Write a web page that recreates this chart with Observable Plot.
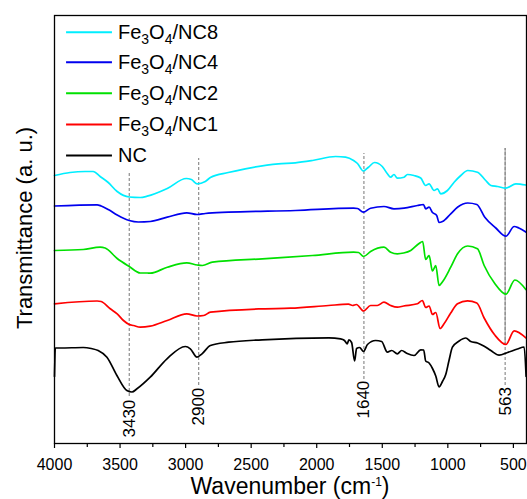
<!DOCTYPE html>
<html>
<head>
<meta charset="utf-8">
<script src="https://cdn.jsdelivr.net/npm/d3@7"></script>
<script src="https://cdn.jsdelivr.net/npm/@observablehq/plot@0.6"></script>
<style>
  html, body { margin: 0; padding: 0; background: white; }
  #chart svg { display: block; }
</style>
</head>
<body>
<div id="chart"></div>
<script>
// ---- Data (arbitrary transmittance units, curves vertically offset) ----
const seriesNames = ["NC", "Fe3O4/NC1", "Fe3O4/NC2", "Fe3O4/NC4", "Fe3O4/NC8"];
const seriesColors = ["#000000", "#ff0000", "#00e000", "#0000ee", "#00eeff"];

const ncW = [4000, 3994, 3957, 3781, 3720, 3667, 3600, 3524, 3448, 3409, 3371, 3270, 3142, 3002, 2964, 2913, 2875, 2811, 2671, 2416, 1907, 1818, 1788, 1767, 1755, 1734, 1711, 1696, 1673, 1643, 1613, 1551, 1505, 1461, 1428, 1385, 1352, 1314, 1258, 1207, 1184, 1169, 1143, 1117, 1092, 1067, 1041, 1016, 991, 965, 914, 863, 825, 774, 726, 672, 609, 545, 469, 418, 403];
const ncT = [67, 95.5, 95.5, 96, 95, 93, 86.3, 68, 53, 51.5, 54.7, 66.3, 84.7, 97, 94.7, 86.3, 89.7, 98, 101.3, 103.7, 105.7, 104.7, 103, 99.7, 103.7, 101, 82.5, 95, 96, 92, 99, 103, 102, 91.3, 93, 89.7, 93, 90.3, 88, 93.7, 93.5, 82.5, 80.5, 75, 67.5, 56.5, 62, 69, 83, 96.3, 102.5, 105.5, 102, 100.5, 97.5, 93, 88.3, 91, 94.5, 96.5, 67];

const nc1W = [4000, 3675, 3644, 3575, 3522, 3474, 3430, 3397, 3346, 3270, 3140, 2991, 2913, 2862, 2811, 2414, 2200, 1910, 1758, 1727, 1697, 1643, 1589, 1538, 1487, 1436, 1385, 1337, 1232, 1194, 1169, 1143, 1117, 1092, 1059, 1029, 978, 926, 850, 779, 723, 642, 557, 494, 405];
const nc1T = [139.7, 142.5, 142, 134.7, 129.7, 123, 119, 118, 116.3, 117.3, 123, 129.7, 127.5, 128, 131.3, 134.7, 135.3, 138, 139.3, 138, 139, 132.5, 138, 138, 141.3, 138, 136.3, 137.5, 139.7, 143, 136, 137.5, 129, 131, 115, 119.7, 130.5, 139.7, 142.7, 140.5, 125.5, 108.5, 99, 112.7, 105.7];

const nc2W = [4000, 3781, 3652, 3614, 3522, 3430, 3346, 3293, 3270, 3140, 2991, 2911, 2872, 2796, 2414, 2032, 1719, 1681, 1643, 1589, 1487, 1436, 1385, 1337, 1283, 1222, 1192, 1169, 1143, 1117, 1092, 1067, 1039, 978, 926, 848, 774, 723, 642, 557, 489, 405];
const nc2T = [193, 194, 196.3, 195.5, 185, 177, 170.5, 170.5, 170.3, 176.3, 180.7, 178.5, 178, 181.3, 184.7, 188, 191.3, 191, 187, 192, 196.3, 191.3, 189.7, 190.5, 193, 199.7, 202, 184, 188, 172.5, 178, 158, 162, 176.3, 189.7, 197.5, 194.7, 178, 160, 149.3, 163.5, 154];

const nc4W = [4000, 3675, 3644, 3590, 3522, 3430, 3361, 3270, 3140, 2991, 2913, 2850, 2674, 2162, 1719, 1689, 1645, 1589, 1487, 1411, 1334, 1232, 1186, 1169, 1143, 1117, 1085, 1067, 1041, 978, 924, 848, 779, 718, 634, 557, 494, 458, 405];
const nc4T = [237.5, 238.7, 237.5, 234, 228.5, 223, 221.5, 222, 226.3, 230.7, 229, 230, 231.3, 233, 235.3, 235, 231.3, 235.3, 237, 234.7, 235.3, 238, 239, 234.7, 236.3, 231, 228, 221, 222, 229.7, 236.5, 240.5, 239, 226.3, 215.5, 207.3, 217, 215.5, 211.5];

const nc8W = [4000, 3881, 3766, 3705, 3652, 3590, 3522, 3430, 3346, 3293, 3140, 2995, 2956, 2913, 2850, 2811, 2675, 2545, 2293, 2163, 2032, 1856, 1780, 1719, 1689, 1645, 1605, 1559, 1500, 1461, 1436, 1411, 1385, 1334, 1308, 1258, 1207, 1169, 1143, 1105, 1079, 1054, 1003, 952, 901, 848, 774, 711, 672, 621, 557, 481, 405];
const nc8T = [268, 271, 272, 272, 267, 261, 252, 246.5, 246, 247.3, 255, 265, 264, 259.7, 262, 266, 271, 274.7, 279.7, 280.7, 283, 287, 286.3, 283, 280, 272.5, 276.3, 281, 277, 269.7, 266.3, 269, 265.3, 266.3, 269, 268, 265.5, 258, 259.7, 253, 254.7, 249.7, 253, 261.3, 268, 273, 271.3, 263, 258, 257, 255.3, 259.7, 258.5];

const seriesW = [ncW, nc1W, nc2W, nc4W, nc8W];
const seriesT = [ncT, nc1T, nc2T, nc4T, nc8T];

// Marker positions (cm-1) and label text
const markerW = [3430, 2900, 1640, 563];
const markerLabels = ["3430", "2900", "1640", "563"];
const markerTop = [271, 285, 290, 295];
const markerBottom = [47, 58, 64, 58];
const markerTextY = [6, 18, 25, 28];

// Axis ticks
const majorTicks = [4000, 3500, 3000, 2500, 2000, 1500, 1000, 500];
const minorTicks = [3750, 3250, 2750, 2250, 1750, 1250, 750];

// Legend order (top to bottom)
const legendOrder = [4, 3, 2, 1, 0];
const legendY = [411.3, 381.3, 350.3, 319, 288];

// ---- Build tables ----
const lineData = seriesW.map((ws, i) => ws.map((w, j) => ({w, t: seriesT[i][j]})));
const markers = markerW.map((w, i) => ({w, label: markerLabels[i], top: markerTop[i], bottom: markerBottom[i], ty: markerTextY[i]}));
const legend = legendOrder.map((s, i) => ({name: seriesNames[s], color: seriesColors[s], y: legendY[i]}));

const font = "'Liberation Sans', Arial, Helvetica, sans-serif";

const plot = Plot.plot({
  width: 527,
  height: 499,
  marginLeft: 54,
  marginRight: 1,
  marginTop: 15,
  marginBottom: 56,
  x: {domain: [4000, 400]},
  y: {domain: [0, 428], axis: null},
  style: {fontFamily: font, fontSize: "16px", background: "white", color: "black", overflow: "visible"},
  marks: [
    Plot.axisX({ticks: majorTicks, tickSize: 5, tickPadding: 10, tickFormat: d3.format("d"), label: null, fontSize: 16, strokeWidth: 1.2}),
    Plot.axisX({ticks: minorTicks, tickSize: 4, tickFormat: () => "", label: null, strokeWidth: 1.2}),
    Plot.ruleX(markers, {x: "w", y1: "bottom", y2: "top", stroke: "#777", strokeWidth: 1, strokeDasharray: "3,2"}),
    Plot.ruleX(markers.filter(d => d.w === 563), {x: "w", y1: 98, y2: "top", stroke: "#888", strokeWidth: 1}),
    Plot.text(markers, {x: "w", y: "ty", text: "label", rotate: -90, textAnchor: "start", fontSize: 17, fill: "black"}),
    ...lineData.map((d, i) => Plot.line(d, {x: "w", y: "t", stroke: seriesColors[i], strokeWidth: 1.7, curve: "monotone-x"})),
    Plot.ruleY(legend, {x1: 3908, x2: 3558, y: "y", stroke: "color", strokeWidth: 2}),
    Plot.text(legend, {x: 3516, y: "y", text: "name", textAnchor: "start", fontSize: 20, fill: "black"}),
    Plot.frame({stroke: "black", strokeWidth: 1.3})
  ],
  color: {type: "identity"}
});

document.getElementById("chart").appendChild(plot);

// Subscripts in legend labels
d3.select(plot).selectAll("text").each(function() {
  const el = d3.select(this);
  const txt = el.text();
  if (txt.startsWith("Fe3O4/")) {
    const rest = txt.slice(5);
    el.text(null);
    el.append("tspan").text("Fe");
    el.append("tspan").attr("font-size", 14).attr("dy", 5).text("3");
    el.append("tspan").attr("dy", -5).text("O");
    el.append("tspan").attr("font-size", 14).attr("dy", 5).text("4");
    el.append("tspan").attr("dy", -5).text(rest);
  }
});

// Y-axis title
d3.select(plot).append("text")
  .attr("transform", "translate(24,228) rotate(-90)")
  .attr("text-anchor", "middle")
  .attr("dy", "0.35em")
  .attr("font-family", font)
  .attr("font-size", 22)
  .attr("fill", "black")
  .text("Transmittance (a. u.)");

// X-axis title with superscript
const xt = d3.select(plot).append("text")
  .attr("x", 290).attr("y", 494)
  .attr("text-anchor", "middle")
  .attr("font-family", font)
  .attr("font-size", 23)
  .attr("fill", "black");
xt.append("tspan").text("Wavenumber (cm");
xt.append("tspan").attr("font-size", 12).attr("dy", -8).text("-1");
xt.append("tspan").attr("dy", 8).text(")");
</script>
</body>
</html>
